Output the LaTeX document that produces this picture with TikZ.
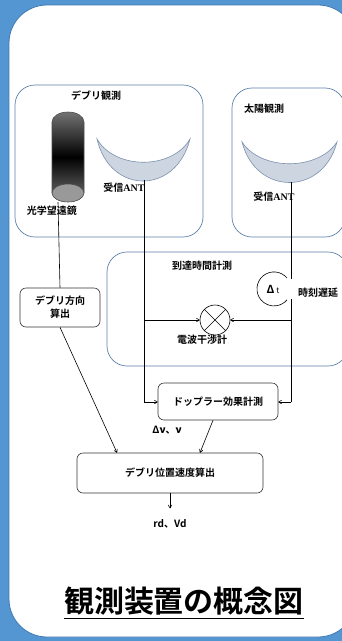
\documentclass[tikz,border=0pt]{standalone}
\usepackage{fontspec}
\setmainfont{Noto Sans CJK JP}[BoldFont={Noto Sans CJK JP Bold}]
\newfontfamily\latinserif{Liberation Serif}
\usetikzlibrary{arrows.meta}
\definecolor{framebg}{RGB}{84,150,210}
\definecolor{frameedge}{RGB}{62,120,178}
\definecolor{groupedge}{RGB}{96,130,170}
\definecolor{dishfill}{RGB}{205,213,225}
\definecolor{dishedge}{RGB}{125,145,175}
\begin{document}
\begin{tikzpicture}[x=1pt,y=-1pt,
  lbl/.style={inner sep=0pt, font=\fontsize{10}{11}\selectfont\bfseries},
  group/.style={draw=groupedge, line width=0.7pt, rounded corners=20pt},
  proc/.style={draw=black!80, line width=0.6pt, rounded corners=6pt, fill=white},
  wire/.style={line width=0.6pt, black},
  flow/.style={wire, -{To[length=3.5pt,width=4pt]}},
  dish/.style={fill=dishfill, draw=dishedge, line width=0.6pt}]
\useasboundingbox (0,0) rectangle (342,641);
% frame
\fill[framebg] (0,0) rectangle (342,641);
\draw[frameedge, fill=white, line width=0.8pt, rounded corners=38pt] (9,5) rectangle (356,637);

% group boxes
\draw[group] (15,85) rectangle (203,237);
\draw[group] (232,88) rectangle (345,237);
\draw[group] (107,252) rectangle (348,366);
\node[lbl] (debrisT) at (96,96) {デブリ観測};
\node[lbl] (solarT) at (264,109) {太陽観測};
\node[lbl] (arrivT) at (202,266) {到達時間計測};

% optical telescope (y axis points down, so the upper cap runs through 270 degrees)
\path[shade, top color=black!55, bottom color=black!55, middle color=black]
  (52,193) -- (52,122) arc[start angle=180, end angle=360, x radius=16, y radius=10]
  -- (84,193) arc[start angle=0, end angle=180, x radius=16, y radius=9] -- cycle;
\draw[black!70, line width=0.6pt]
  (52,193) -- (52,122) arc[start angle=180, end angle=360, x radius=16, y radius=10]
  -- (84,193);
\draw[black!70, fill=black!40, line width=0.6pt] (68,193) ellipse[x radius=16, y radius=9];
\coordinate (scope) at (58,202);
\node[lbl] (scopeL) at (52,211) {光学望遠鏡};

% debris antenna
\draw[dish] (97,139) .. controls (110,195) and (176,195) .. (190,139)
  .. controls (172,170) and (115,170) .. (97,139) -- cycle;
\coordinate (antD) at (144,180);
\node[lbl] (antDL) at (124,188) {受信{\latinserif\bfseries ANT}};

% solar antenna
\draw[dish] (242,142) .. controls (256,196) and (323,196) .. (337,142)
  .. controls (318,171) and (261,171) .. (242,142) -- cycle;
\coordinate (antS) at (291,182);
\node[lbl] (antSL) at (274,197) {受信{\latinserif\bfseries ANT}};

% delay element
\coordinate (dlyTop) at (291,279);
\coordinate (dlyBot) at (291,299);
\draw[wire] (287,278) arc[start angle=-40, end angle=-320, radius=17];
\node[inner sep=0pt] (dly) at (273,289) {\fontsize{11}{12}\selectfont\textbf{Δ}\,{\fontsize{8}{9}\selectfont t}};
\node[lbl] (dlyL) at (318,293) {時刻遅延};

% interferometer
\node[draw, circle, minimum size=30pt, inner sep=0pt, line width=0.6pt] (ifm) at (215,320) {};
\draw[wire] (ifm.north west) -- (ifm.south east) (ifm.north east) -- (ifm.south west);
\node[lbl] (ifmL) at (202,340) {電波干渉計};

% processing boxes
\node[proc, minimum width=80pt, minimum height=39pt, align=center, font=\fontsize{10}{13}\selectfont\bfseries] (dir) at (60,307.5) {デブリ方向\\算出};
\node[proc, minimum width=120pt, minimum height=37pt, font=\fontsize{10}{11}\selectfont\bfseries] (dop) at (218,401.5) {ドップラー効果計測};
\node[proc, minimum width=186pt, minimum height=40pt, font=\fontsize{10}{11}\selectfont\bfseries] (pos) at (170,473) {デブリ位置速度算出};
\node[lbl] (nu) at (167,430) {Δ{\itshape ν}、{\itshape ν}};
\node[lbl] (out) at (170,524) {rd、Vd};

% bend points
\coordinate (dL1) at (144,320);
\coordinate (dL2) at (144,402);
\coordinate (dR1) at (291,320);
\coordinate (dR2) at (291,402);

% connectors
\draw[wire] (scope) -- (dir.north);
\draw[flow] (dir.south) -- (pos.north west -| 117,0) ;
\draw[wire] (antD) -- (dL2);
\draw[flow] (dL2) -- (dop.west |- dL2);
\draw[flow] (dL1) -- (ifm.west);
\draw[wire] (antS) -- (dlyTop);
\draw[wire] (dlyBot) -- (dR2);
\draw[flow] (dR2) -- (dop.east |- dR2);
\draw[flow] (dR1) -- (ifm.east);
\draw[flow] ([xshift=-5pt]dop.south) -- (pos.north -| 200,0);
\draw[flow] (pos.south) -- ++(0,15);

% title
\node[inner sep=0pt, font=\fontsize{30}{32}\selectfont\bfseries] (title) at (184,601) {観測装置の概念図};
\draw[line width=1.2pt] ([yshift=-3pt]title.south west) -- ([yshift=-3pt]title.south east);
\end{tikzpicture}
\end{document}
